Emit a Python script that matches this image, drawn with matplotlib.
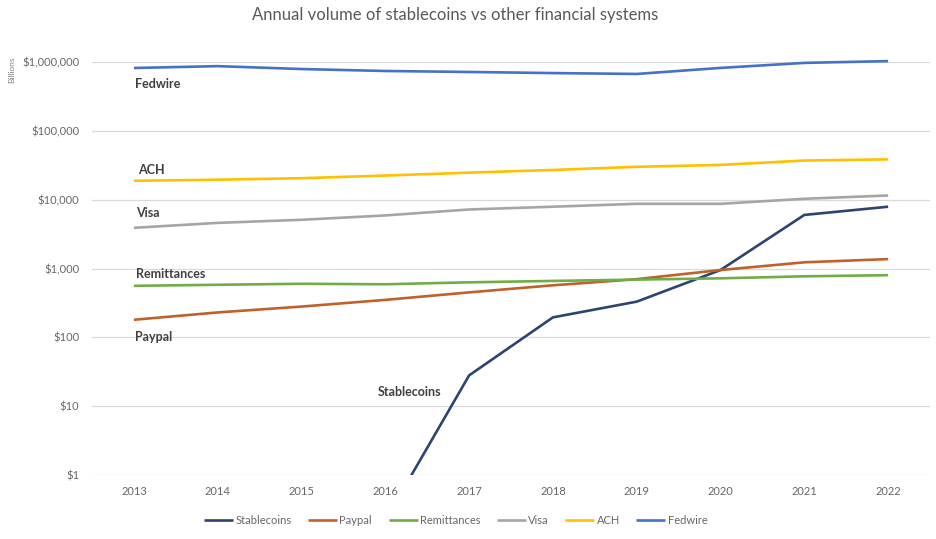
import matplotlib
matplotlib.use("Agg")
import matplotlib.pyplot as plt
import numpy as np

years = [2013, 2014, 2015, 2016, 2017, 2018, 2019, 2020, 2021, 2022]
stablecoins = [np.nan, np.nan, np.nan, 0.22, 28, 195, 330, 950, 6000, 7900]
paypal = [180, 230, 280, 350, 450, 570, 700, 950, 1230, 1370]
remittances = [560, 580, 600, 590, 630, 660, 690, 720, 770, 800]
visa = [3900, 4600, 5100, 5900, 7200, 7900, 8700, 8700, 10300, 11500]
ach = [18800, 19500, 20500, 22400, 24700, 27000, 30000, 32000, 37000, 38500]
fedwire = [818000, 870000, 790000, 740000, 716000, 690000, 670000, 820000, 970000, 1030000]

series_names = ["Stablecoins", "Paypal", "Remittances", "Visa", "ACH", "Fedwire"]
series_values = [stablecoins, paypal, remittances, visa, ach, fedwire]
colors = ["#2B4470", "#C0612C", "#70AD47", "#A5A5A5", "#FFC000", "#4472C4"]

yticks = [1, 10, 100, 1000, 10000, 100000, 1000000]
ytick_labels = ["$1", "$10", "$100", "$1,000", "$10,000", "$100,000", "$1,000,000"]

# inline labels: (text, year, value)
inline_labels = [
    ("Fedwire", 2013.01, 480000),
    ("ACH", 2013.05, 27000),
    ("Visa", 2013.03, 6500),
    ("Remittances", 2013.02, 820),
    ("Paypal", 2013.01, 100),
    ("Stablecoins", 2015.91, 16),
]

plt.rcParams['font.family'] = ['Lato', 'DejaVu Sans']

fig = plt.figure(figsize=(9.36, 5.39), dpi=100)
ax = fig.add_axes([0.0983, 0.1187, 0.8953, 0.7663])

for name, vals, c in zip(series_names, series_values, colors):
    ln, = ax.plot(years, vals, color=c, lw=1.9, label=name, solid_capstyle='butt')
    if name != "Stablecoins":
        ln.set_clip_on(False)

ax.set_yscale('log')
ax.set_ylim(1, 1000000)
ax.set_xlim(2012.5, 2022.5)
ax.set_yticks(yticks)
ax.set_yticklabels(ytick_labels)
ax.minorticks_off()
ax.set_xticks(years)
ax.set_xticklabels([str(y) for y in years])
ax.tick_params(axis='both', length=0, labelsize=8, colors='#666666')
ax.tick_params(axis='y', pad=9)
ax.tick_params(axis='x', pad=8)
ax.grid(axis='y', color='#D9D9D9', lw=0.9)
ax.set_axisbelow(True)
for s in ax.spines.values():
    s.set_visible(False)

for txt, x, y in inline_labels:
    ax.text(x, y, txt, fontsize=9, fontweight='bold', color='#404040',
            ha='left', va='center')

fig.text(0.486, 0.972, "Annual volume of stablecoins vs other financial systems",
         ha='center', va='center', fontsize=12, color='#595959')
fig.text(0.013, 0.87, "Billions", rotation=90, ha='center', va='center',
         fontsize=6, color='#808080')

leg = fig.legend(loc='center', bbox_to_anchor=(0.487, 0.035), ncol=6, frameon=False,
                 fontsize=8, handlelength=2.6, handletextpad=0.2, columnspacing=1.5)
for t in leg.get_texts():
    t.set_color('#666666')

fig.savefig("out.png", dpi=100)
